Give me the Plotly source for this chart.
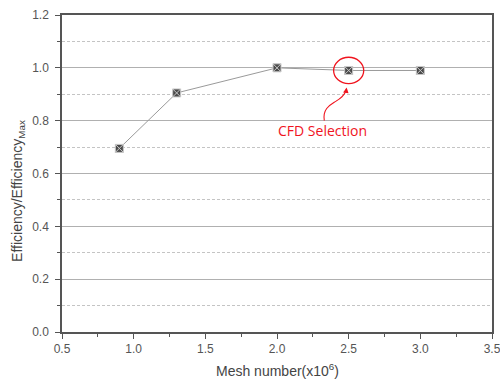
import plotly.graph_objects as go

# Mesh independence study data
mesh_number = [0.9, 1.3, 2.0, 2.5, 3.0]          # x10^6 cells
efficiency_ratio = [0.695, 0.905, 1.0, 0.99, 0.99]  # Efficiency / Efficiency_Max
selected_mesh = 2.5
selected_value = 0.99

fig = go.Figure()

fig.add_trace(go.Scatter(
    x=mesh_number, y=efficiency_ratio,
    mode="lines+markers",
    line=dict(color="#9a9a9a", width=1),
    marker=dict(symbol="square-x", size=8, color="#4a4a4a",
                line=dict(color="#c8c8c8", width=1)),
    showlegend=False,
))

red = "#f0141e"

# Circle around the chosen mesh
fig.add_shape(type="circle", xref="x", yref="y",
              x0=selected_mesh - 0.105, x1=selected_mesh + 0.105,
              y0=selected_value - 0.05, y1=selected_value + 0.05,
              line=dict(color=red, width=1.3))

# Curved pointer from the label to the circle
fig.add_shape(type="path", xref="x", yref="y",
              path="M 2.330,0.800 C 2.316,0.845 2.372,0.860 2.407,0.872 S 2.470,0.894 2.482,0.915",
              line=dict(color=red, width=1.1))
fig.add_annotation(x=2.486, y=0.926, ax=2.480, ay=0.905, xref="x", yref="y",
                   axref="x", ayref="y", text="", showarrow=True,
                   arrowhead=2, arrowsize=1, arrowwidth=1.1, arrowcolor=red)

fig.add_annotation(x=2.318, y=0.762, xref="x", yref="y", text="CFD Selection",
                   showarrow=False, font=dict(color=red, size=14,
                                              family="Open Sans, Liberation Sans"))

title_font = dict(color="#444444", size=14, family="Liberation Sans, Arial")
axis_font = dict(color="#555555", size=12, family="Liberation Sans, Arial")

# Axis titles
fig.add_annotation(xref="paper", yref="paper", x=0.5, y=0, yshift=-38,
                   xanchor="center", yanchor="middle", showarrow=False,
                   text="Mesh number(x10<sup>6</sup>)", font=title_font)
fig.add_annotation(xref="paper", yref="paper", x=0, xshift=-44, y=0.445,
                   xanchor="center", yanchor="middle", showarrow=False,
                   textangle=-90, text="Efficiency/Efficiency<sub>Max</sub>",
                   font=title_font)

fig.update_xaxes(
    range=[0.5, 3.5], tick0=0.5, dtick=0.5, tickformat=".1f",
    showgrid=False, zeroline=False, automargin=False,
    ticklabeloverflow="allow",
    showline=True, linecolor="#555555", linewidth=1.5, mirror=True,
    ticks="outside", ticklen=5, tickcolor="#555555", tickwidth=1,
    minor=dict(dtick=0.25, tick0=0.5, ticks="outside", ticklen=3,
               tickcolor="#555555", showgrid=False),
    tickfont=axis_font,
)
fig.update_yaxes(
    range=[0, 1.2], dtick=0.2, tickformat=".1f",
    showgrid=True, gridcolor="#b0b0b0", gridwidth=1, zeroline=False, automargin=False,
    showline=True, linecolor="#555555", linewidth=1.5, mirror=True,
    ticks="outside", ticklen=5, tickcolor="#555555", tickwidth=1,
    ticklabelstandoff=4,
    minor=dict(dtick=0.1, ticks="outside", ticklen=3, tickcolor="#555555",
               showgrid=True, gridcolor="#c4c4c4", griddash="3px,2px", gridwidth=1),
    tickfont=axis_font,
)

fig.update_layout(
    width=500, height=381,
    margin=dict(l=62, r=8, t=15, b=49),
    paper_bgcolor="white", plot_bgcolor="white",
)

fig.write_html("out.html")
